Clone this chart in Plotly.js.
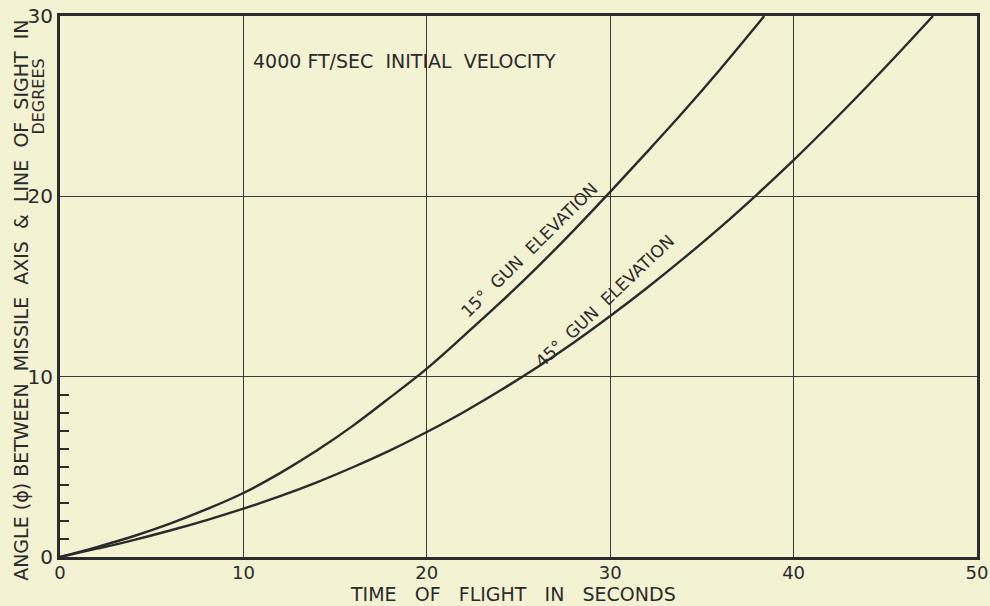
<!DOCTYPE html>
<html>
<head>
<meta charset="utf-8">
<script src="https://cdn.plot.ly/plotly-3.0.1.min.js"></script>
<style>
  html, body { margin: 0; padding: 0; background: #f3f2d2; }
  #chart { width: 990px; height: 606px; }
</style>
</head>
<body>
<div id="chart"></div>
<script>
// Time of flight (seconds)
const time15 = [0, 2, 4, 6, 8, 10, 12, 14, 16, 18, 20, 22, 24, 26, 28, 30, 32, 34, 36, 38, 38.4];
// Angle (degrees), 15° gun elevation
const angle15 = [0, 0.55, 1.15, 1.85, 2.65, 3.55, 4.65, 5.9, 7.3, 8.85, 10.45, 12.25, 14.1, 16.05, 18.1, 20.25, 22.45, 24.7, 27.05, 29.5, 30];

const time45 = [0, 2, 4, 6, 8, 10, 12, 14, 16, 18, 20, 22, 24, 26, 28, 30, 32, 34, 36, 38, 40, 42, 44, 46, 47.6];
// Angle (degrees), 45° gun elevation
const angle45 = [0, 0.46, 0.94, 1.47, 2.05, 2.68, 3.37, 4.14, 4.99, 5.91, 6.93, 8.03, 9.23, 10.51, 11.88, 13.36, 14.92, 16.56, 18.28, 20.1, 22.01, 24.01, 26.09, 28.24, 30];

const xTicks = [0, 10, 20, 30, 40, 50];
const xTickText = ['0', '10', '20', '30', '40', '50'];
const yTicks = [0, 10, 20, 30];
const yTickText = ['0', '10', '20', '30'];
const yMinorTicks = [1, 2, 3, 4, 5, 6, 7, 8, 9];

const ink = '#2b2b2b';
const bg = '#f3f2d2';
const FONT = 'DejaVu Sans, Liberation Sans, sans-serif';
const sp = '&nbsp;';

const traces = [
  { x: time15, y: angle15, type: 'scatter', mode: 'lines', name: '15° GUN ELEVATION',
    line: { color: ink, width: 2.4, shape: 'spline', smoothing: 1 }, showlegend: false, hoverinfo: 'x+y' },
  { x: time45, y: angle45, type: 'scatter', mode: 'lines', name: '45° GUN ELEVATION',
    line: { color: ink, width: 2.4, shape: 'spline', smoothing: 1 }, showlegend: false, hoverinfo: 'x+y' },
  { x: [0], y: [0], yaxis: 'y2', type: 'scatter', mode: 'markers', marker: { opacity: 0 },
    showlegend: false, hoverinfo: 'skip' }
];

const layout = {
  width: 990, height: 606,
  margin: { l: 60, r: 13, t: 16, b: 49 },
  paper_bgcolor: bg, plot_bgcolor: bg,
  font: { family: FONT, color: ink, size: 17 },
  showlegend: false,
  xaxis: {
    range: [0, 50], tickmode: 'array', tickvals: xTicks, ticktext: xTickText,
    showgrid: true, gridcolor: '#3a3a3a', gridwidth: 1.4, zeroline: false,
    showline: true, linecolor: ink, linewidth: 3, mirror: true,
    ticks: '', ticklabelstandoff: -3, tickfont: { family: FONT, size: 18, color: ink },
    automargin: false, fixedrange: true
  },
  yaxis: {
    range: [0, 30], tickmode: 'array', tickvals: yTicks, ticktext: yTickText,
    showgrid: true, gridcolor: '#3a3a3a', gridwidth: 1.4, zeroline: false,
    showline: true, linecolor: ink, linewidth: 3, mirror: true,
    ticks: '', tickfont: { family: FONT, size: 20, color: ink },
    automargin: false, fixedrange: true
  },
  yaxis2: {
    overlaying: 'y', side: 'left', range: [0, 30], tickmode: 'array', tickvals: yMinorTicks,
    ticks: 'inside', ticklen: 9, tickwidth: 1.6, tickcolor: ink,
    showticklabels: false, showgrid: false, zeroline: false, showline: false, fixedrange: true
  },
  annotations: [
    { text: ['ANGLE', '(ϕ)', 'BETWEEN', sp + 'MISSILE', sp + 'AXIS', sp + '&amp;', sp + 'LINE', sp + 'OF', sp + 'SIGHT', sp + 'IN'].join(sp),
      xref: 'paper', yref: 'paper', x: 0, y: 0.4735, xshift: -39, textangle: -90,
      showarrow: false, xanchor: 'center', yanchor: 'middle', font: { family: FONT, size: 19, color: ink } },
    { text: 'DEGREES', xref: 'paper', yref: 'paper', x: 0, y: 0.851, xshift: -21, textangle: -90,
      showarrow: false, xanchor: 'center', yanchor: 'middle', font: { family: FONT, size: 16, color: ink } },
    { text: ['TIME', 'OF', 'FLIGHT', 'IN', 'SECONDS'].join(sp + sp + sp),
      xref: 'paper', yref: 'paper', x: 0.4935, y: 0, yshift: -49, borderpad: 0,
      showarrow: false, xanchor: 'center', yanchor: 'bottom', font: { family: FONT, size: 19, color: ink } },
    { text: '4000' + sp + 'FT/SEC' + sp + sp + 'INITIAL' + sp + sp + 'VELOCITY', xref: 'x', yref: 'y', x: 18.8, y: 27.5,
      showarrow: false, xanchor: 'center', yanchor: 'middle', font: { family: FONT, size: 19, color: ink } },
    { text: '15°' + sp + sp + 'GUN' + sp + sp + 'ELEVATION', xref: 'x', yref: 'y', x: 25.6, y: 17.0, textangle: -44.5,
      showarrow: false, xanchor: 'center', yanchor: 'middle', font: { family: FONT, size: 17, color: ink } },
    { text: '45°' + sp + sp + 'GUN' + sp + sp + 'ELEVATION', xref: 'x', yref: 'y', x: 29.7, y: 14.2, textangle: -43.5,
      showarrow: false, xanchor: 'center', yanchor: 'middle', font: { family: FONT, size: 17, color: ink } }
  ]
};

Plotly.newPlot('chart', traces, layout, { displayModeBar: false, staticPlot: true });
</script>
</body>
</html>
